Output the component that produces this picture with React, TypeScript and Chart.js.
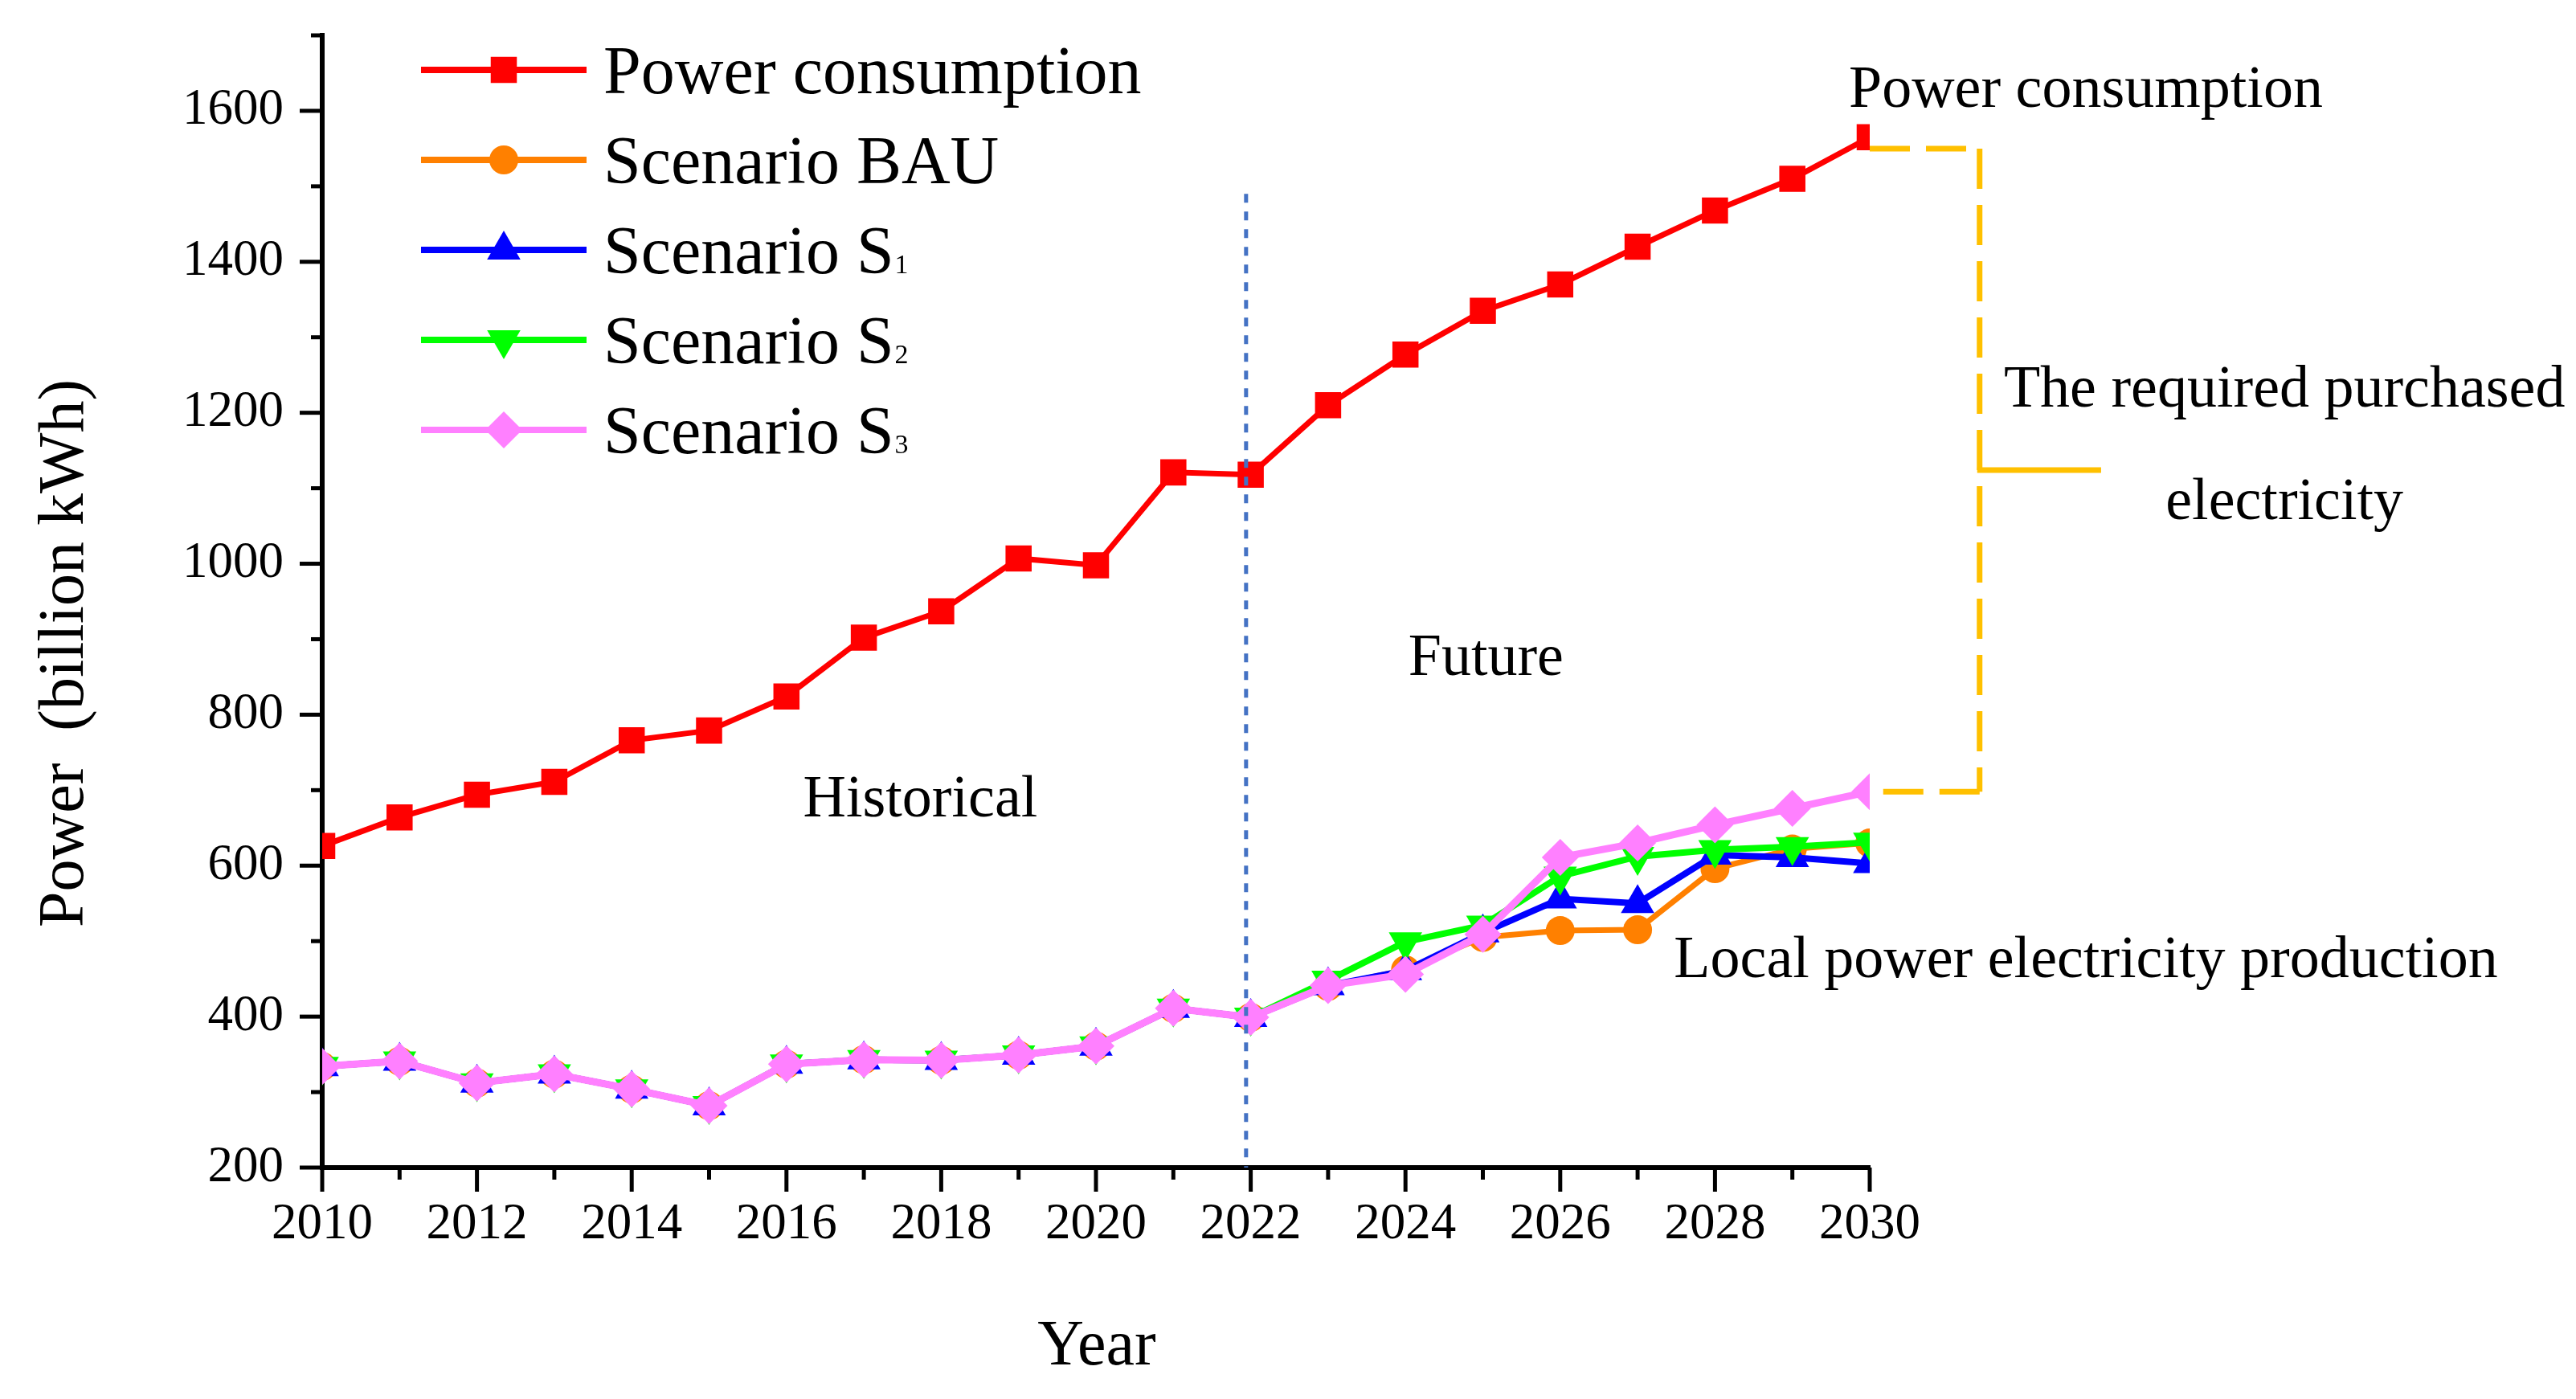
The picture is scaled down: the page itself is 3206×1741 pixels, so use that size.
import React, { useEffect, useRef } from 'react';
import { Chart, registerables } from 'chart.js';
import { drawPoint } from 'chart.js/helpers';

Chart.register(...registerables);

// ---------------- data ----------------
const years = [2010, 2011, 2012, 2013, 2014, 2015, 2016, 2017, 2018, 2019, 2020, 2021, 2022, 2023, 2024, 2025, 2026, 2027, 2028, 2029, 2030];
const powerConsumption = [626, 664, 694, 711, 766, 779, 824, 902, 937, 1007, 998, 1121, 1118, 1210, 1277, 1335, 1370, 1420, 1468, 1510, 1565];
const scenarioBAU = [334, 341, 312, 324, 304, 282, 337, 343, 342, 349, 361, 411, 399, 440, 462, 505, 514, 515, 596, 622, 630];
const scenarioS1 = [334, 341, 312, 324, 304, 282, 337, 343, 342, 349, 361, 411, 399, 441, 461, 511, 556, 550, 614, 611, 603];
const scenarioS2 = [334, 341, 312, 324, 304, 282, 337, 343, 342, 349, 361, 411, 399, 448, 499, 521, 586, 612, 621, 625, 631];
const scenarioS3 = [334, 341, 312, 324, 304, 282, 337, 343, 342, 349, 361, 411, 399, 441, 456, 509, 611, 630, 654, 676, 698];

const seriesNames = ['Power consumption', 'Scenario BAU', 'Scenario S', 'Scenario S', 'Scenario S'];
const seriesSubscripts = ['', '', '1', '2', '3'];

const xTickLabels = [2010, 2012, 2014, 2016, 2018, 2020, 2022, 2024, 2026, 2028, 2030];
const xMinorTicks = [2011, 2013, 2015, 2017, 2019, 2021, 2023, 2025, 2027, 2029];
const yTickLabels = [200, 400, 600, 800, 1000, 1200, 1400, 1600];
const yMinorTicks = [300, 500, 700, 900, 1100, 1300, 1500, 1700];

const xTitle = 'Year';
const yTitle = 'Power  (billion kWh)';

// divider between historical and future
const dividerYear = 2021.94;
const dividerTop = 1490;

// bracket for purchased electricity
const bracketTop = 1550;
const bracketBottom = 698;
const bracketX = 2031.42;
const bracketStubEnd = 2032.99;

const annotations = [
  { text: 'Historical', x: 2017.73, y: 665, align: 'center' },
  { text: 'Future', x: 2025.04, y: 853, align: 'center' },
  { text: 'Power consumption', x: 2029.73, y: 1605, align: 'left' },
  { text: 'The required purchased', x: 2035.36, y: 1208, align: 'center' },
  { text: 'electricity', x: 2035.36, y: 1059, align: 'center' },
  { text: 'Local power electricity production', x: 2027.47, y: 452, align: 'left' },
];

const FONT = '"Liberation Serif", "Times New Roman", serif';

const toPoints = (vals: number[]) => years.map((yr, i) => ({ x: yr, y: vals[i] }));

const styles = [
  { color: '#FF0000', pointStyle: 'rect', radius: 23, rotation: 0, width: 7, order: 5 },
  { color: '#FF8000', pointStyle: 'circle', radius: 18, rotation: 0, width: 7, order: 4 },
  { color: '#0000FF', pointStyle: 'triangle', radius: 24, rotation: 0, width: 8, order: 3 },
  { color: '#00FF00', pointStyle: 'triangle', radius: 24, rotation: 180, width: 8, order: 2 },
  { color: '#FF80FF', pointStyle: 'rectRot', radius: 23, rotation: 0, width: 9, order: 1 },
];

const seriesValues = [powerConsumption, scenarioBAU, scenarioS1, scenarioS2, scenarioS3];

const decorPlugin = {
  id: 'decor',
  afterDatasetsDraw(chart: any) {
    const { ctx, scales } = chart;
    const x = scales.x, y = scales.y;
    ctx.save();
    ctx.strokeStyle = '#4472C4';
    ctx.lineWidth = 5;
    ctx.setLineDash([11, 11]);
    const px = x.getPixelForValue(dividerYear);
    ctx.beginPath();
    ctx.moveTo(px, y.getPixelForValue(dividerTop));
    ctx.lineTo(px, y.getPixelForValue(200));
    ctx.stroke();
    ctx.restore();
  },
  afterDraw(chart: any) {
    const { ctx, scales, chartArea } = chart;
    const x = scales.x, y = scales.y;
    ctx.save();

    // tick marks
    ctx.strokeStyle = '#000';
    ctx.lineWidth = 5;
    ctx.setLineDash([]);
    const left = chartArea.left, bottom = chartArea.bottom;
    yTickLabels.forEach((v) => {
      const py = y.getPixelForValue(v);
      ctx.beginPath(); ctx.moveTo(left - 28, py); ctx.lineTo(left, py); ctx.stroke();
    });
    yMinorTicks.forEach((v) => {
      const py = y.getPixelForValue(v);
      ctx.beginPath(); ctx.moveTo(left - 14, py); ctx.lineTo(left, py); ctx.stroke();
    });
    xTickLabels.forEach((v) => {
      const pxx = x.getPixelForValue(v);
      ctx.beginPath(); ctx.moveTo(pxx, bottom); ctx.lineTo(pxx, bottom + 30); ctx.stroke();
    });
    xMinorTicks.forEach((v) => {
      const pxx = x.getPixelForValue(v);
      ctx.beginPath(); ctx.moveTo(pxx, bottom); ctx.lineTo(pxx, bottom + 15); ctx.stroke();
    });

    // bracket
    ctx.strokeStyle = '#FFC000';
    ctx.lineWidth = 7;
    ctx.setLineDash([50, 20]);
    const bx = x.getPixelForValue(bracketX);
    const x30 = x.getPixelForValue(2030);
    const yT = y.getPixelForValue(bracketTop);
    const yB = y.getPixelForValue(bracketBottom);
    ctx.beginPath(); ctx.moveTo(x30, yT); ctx.lineTo(bx, yT); ctx.stroke();
    ctx.beginPath(); ctx.moveTo(bx, yT); ctx.lineTo(bx, yB); ctx.stroke();
    ctx.beginPath(); ctx.moveTo(bx, yB); ctx.lineTo(x30, yB); ctx.stroke();
    ctx.setLineDash([]);
    const yM = y.getPixelForValue((bracketTop + bracketBottom) / 2);
    ctx.beginPath(); ctx.moveTo(bx - 3, yM); ctx.lineTo(x.getPixelForValue(bracketStubEnd), yM); ctx.stroke();

    // annotations
    ctx.fillStyle = '#000';
    ctx.textBaseline = 'alphabetic';
    ctx.font = `74px ${FONT}`;
    annotations.forEach((a) => {
      ctx.textAlign = a.align;
      ctx.fillText(a.text, x.getPixelForValue(a.x), y.getPixelForValue(a.y));
    });

    // axis titles
    ctx.font = `80px ${FONT}`;
    ctx.textAlign = 'center';
    ctx.fillText(xTitle, (chartArea.left + chartArea.right) / 2 + 1, chartArea.bottom + 245);
    ctx.save();
    ctx.translate(chartArea.left - 298, chartArea.top + 769);
    ctx.rotate(-Math.PI / 2);
    ctx.fillText(yTitle, 0, 0);
    ctx.restore();

    // legend
    const lx0 = chartArea.left + 123;
    const lx1 = chartArea.left + 329;
    const mx = chartArea.left + 226;
    const tx = chartArea.left + 350;
    styles.forEach((s, i) => {
      const ly = chartArea.top + 43 + i * 112;
      ctx.strokeStyle = s.color;
      ctx.lineWidth = 8;
      ctx.beginPath(); ctx.moveTo(lx0, ly); ctx.lineTo(lx1, ly); ctx.stroke();
      ctx.fillStyle = s.color;
      drawPoint(ctx, { pointStyle: s.pointStyle, radius: s.radius, rotation: s.rotation, borderWidth: 0 } as any, mx, ly);
      ctx.fillStyle = '#000';
      ctx.textAlign = 'left';
      ctx.font = `84px ${FONT}`;
      ctx.fillText(seriesNames[i], tx, ly + 29);
      if (seriesSubscripts[i]) {
        const w = ctx.measureText(seriesNames[i]).width;
        ctx.font = `34px ${FONT}`;
        ctx.fillText(seriesSubscripts[i], tx + w + 1, ly + 29);
      }
    });

    ctx.restore();
  },
};

export default function App() {
  const ref = useRef<HTMLCanvasElement>(null);
  useEffect(() => {
    const datasets = styles.map((s, i) => ({
      label: seriesNames[i] + seriesSubscripts[i],
      data: toPoints(seriesValues[i]),
      borderColor: s.color,
      backgroundColor: s.color,
      pointBackgroundColor: s.color,
      pointBorderColor: s.color,
      pointBorderWidth: 0,
      borderWidth: s.width,
      pointStyle: s.pointStyle,
      pointRadius: s.radius,
      pointHoverRadius: s.radius,
      pointRotation: s.rotation,
      tension: 0,
      order: s.order,
    }));
    const tickFont = { family: FONT, size: 63 };
    const chart = new Chart(ref.current as HTMLCanvasElement, {
      type: 'line',
      data: { datasets } as any,
      options: {
        animation: false,
        responsive: false,
        maintainAspectRatio: false,
        events: [],
        layout: { padding: { top: 44, right: 879, left: 0, bottom: 0 } },
        plugins: { legend: { display: false }, tooltip: { enabled: false } },
        scales: {
          x: {
            type: 'linear',
            min: 2010,
            max: 2030,
            afterBuildTicks: (s: any) => { s.ticks = xTickLabels.map((v) => ({ value: v })); },
            afterFit: (s: any) => { s.height = 288; s.paddingLeft = 0; s.paddingRight = 0; s.paddingTop = 0; s.paddingBottom = 0; },
            grid: { display: true, drawOnChartArea: false, drawTicks: false },
            border: { display: true, color: '#000', width: 6 },
            ticks: { padding: 34, color: '#000', font: tickFont, autoSkip: false, maxRotation: 0, callback: (v: any) => String(v) },
          },
          y: {
            type: 'linear',
            min: 200,
            max: 1700,
            afterBuildTicks: (s: any) => { s.ticks = yTickLabels.map((v) => ({ value: v })); },
            afterFit: (s: any) => { s.width = 401; s.paddingTop = 0; s.paddingBottom = 0; s.paddingLeft = 0; s.paddingRight = 0; },
            grid: { display: true, drawOnChartArea: false, drawTicks: false },
            border: { display: true, color: '#000', width: 6 },
            ticks: { padding: 48, color: '#000', font: tickFont, callback: (v: any) => String(v) },
          },
        },
      } as any,
      plugins: [decorPlugin],
    });
    return () => chart.destroy();
  }, []);
  return (
    <div style={{ position: 'fixed', left: 0, top: 0, width: 3206, height: 1741, background: '#fff' }}>
      <canvas ref={ref} width={3206} height={1741} style={{ display: 'block', width: 3206, height: 1741 }} />
    </div>
  );
}
